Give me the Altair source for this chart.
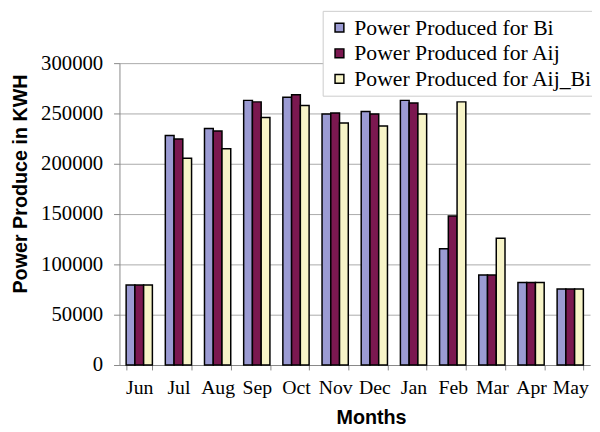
import altair as alt
import pandas as pd

months = ["Jun", "Jul", "Aug", "Sep", "Oct", "Nov", "Dec", "Jan", "Feb", "Mar", "Apr", "May"]
series_names = ["Power Produced for Bi", "Power Produced for Aij", "Power Produced for Aij_Bi"]
bi = [79500, 228000, 235000, 263000, 266000, 249500, 252000, 263000, 115500, 89500, 82000, 75500]
aij = [79500, 224500, 232500, 261500, 268500, 250500, 249500, 260500, 148000, 89500, 82000, 75500]
aij_bi = [79500, 205500, 215000, 246000, 258000, 240500, 237500, 249500, 261500, 126000, 82000, 75500]
y_ticks = [0, 50000, 100000, 150000, 200000, 250000, 300000]
colors = ["#9b9bd3", "#7b1850", "#f7f4c8"]

rows = []
for i, m in enumerate(months):
    for s, vals in zip(series_names, [bi, aij, aij_bi]):
        rows.append({"Month": m, "Series": s, "Value": vals[i]})
df = pd.DataFrame(rows)

chart = alt.Chart(df).mark_bar(stroke="black", strokeWidth=1.5).encode(
    x=alt.X(
        "Month:N", sort=months, title="Months",
        scale=alt.Scale(paddingInner=0.33, paddingOuter=0.17),
        axis=alt.Axis(
            labelAngle=0, labelFont="Liberation Serif", labelFontSize=20, labelColor="black",
            labelPadding=8, tickSize=5, tickBand="extent", tickColor="#888888",
            domainColor="#888888", grid=False,
            titleFont="Liberation Sans", titleFontSize=20, titleFontWeight="bold",
            titleColor="black", titlePadding=10, titleX=255,
        ),
    ),
    xOffset=alt.XOffset("Series:N", sort=series_names,
                        scale=alt.Scale(paddingInner=0, paddingOuter=0)),
    y=alt.Y(
        "Value:Q", title="Power Produce in KWH",
        scale=alt.Scale(domain=[0, 300000], nice=False),
        axis=alt.Axis(
            values=y_ticks, format="d", labelFont="Liberation Serif", labelFontSize=21,
            labelColor="black", labelPadding=11, tickSize=6, tickColor="#888888",
            domainColor="#888888", gridColor="#aaaaaa", gridWidth=1,
            titleFont="Liberation Sans", titleFontSize=20, titleFontWeight="bold",
            titleColor="black", titlePadding=10, titleY=122,
        ),
    ),
    color=alt.Color(
        "Series:N", sort=series_names,
        scale=alt.Scale(domain=series_names, range=colors),
        legend=alt.Legend(
            title=None, orient="none", legendX=206, legendY=-53,
            symbolType="square", symbolSize=80, symbolStrokeColor="black",
            symbolStrokeWidth=1.5, labelFont="Liberation Serif", labelFontSize=22,
            labelColor="black", labelLimit=400, rowPadding=4, padding=6,
            strokeColor="#cccccc", fillColor="white",
        ),
    ),
).properties(
    width=477, height=306,
    autosize=alt.AutoSizeParams(type="none"),
    padding={"left": 113, "top": 53, "right": 2, "bottom": 64},
).configure_view(stroke=None)

chart.save("out.html", embed_options={"renderer": "svg", "actions": False})
